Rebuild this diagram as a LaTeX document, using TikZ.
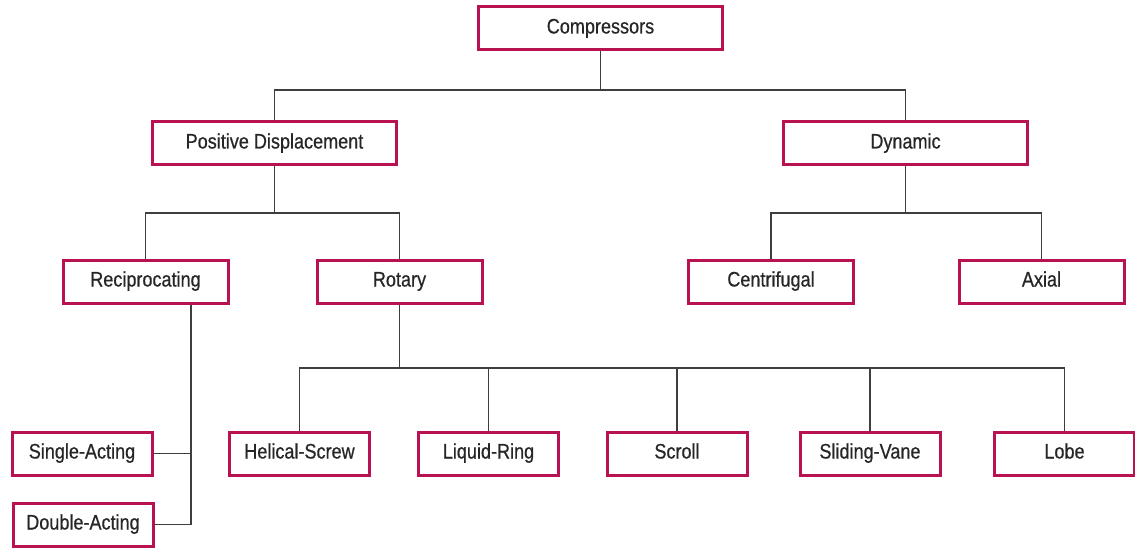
\documentclass[tikz,border=0pt]{standalone}
\usepackage{fontspec}
\setmainfont[FakeStretch=0.86,FakeBold=0.6]{Liberation Sans}
\definecolor{boxred}{RGB}{184,18,82}
\definecolor{linegray}{RGB}{62,62,62}
\tikzset{
  catbox/.style={draw=boxred, line width=3pt, minimum height=43pt, inner sep=0pt,
    text height=14pt, text depth=4pt,
    text=black!85, font=\fontsize{21}{24}\selectfont},
  widebox/.style={catbox, minimum width=244pt},
  midbox/.style={catbox, minimum width=165pt},
  smallbox/.style={catbox, minimum width=140pt},
  link/.style={draw=linegray, line width=1.7pt}
}
\begin{document}
\begin{tikzpicture}[x=1pt,y=-1pt]
  \useasboundingbox (0,0) rectangle (1135,548);

  % Boxes
  \node[widebox] (comp) at (600.5,28.5) {Compressors};
  \node[widebox] (pd) at (274.5,143.5) {Positive Displacement};
  \node[widebox] (dyn) at (905.5,143.5) {Dynamic};

  \node[midbox] (rec) at (145.5,281.5) {Reciprocating};
  \node[midbox] (rot) at (399.5,281.5) {Rotary};
  \node[midbox] (cen) at (771,281.5) {Centrifugal};
  \node[midbox] (axi) at (1041.5,281.5) {Axial};

  \node[smallbox] (sgl) at (82,453.5) {Single-Acting};
  \node[smallbox] (dbl) at (83,524.5) {Double-Acting};
  \node[smallbox] (hel) at (299.5,453.5) {Helical-Screw};
  \node[smallbox] (liq) at (488.5,453.5) {Liquid-Ring};
  \node[smallbox] (scr) at (677,453.5) {Scroll};
  \node[smallbox] (vane) at (870,453.5) {Sliding-Vane};
  \node[smallbox] (lobe) at (1064.5,453.5) {Lobe};

  % Bus points
  \coordinate (bus1) at (600.5,90);
  \coordinate (bus2) at (274.5,213);
  \coordinate (bus3) at (905.5,213);
  \coordinate (bus4) at (399.5,368);
  \coordinate (recdrop) at (191,524.5);

  % Connectors
  \draw[link] (comp.south) -- (bus1);
  \draw[link] (pd.north) |- (bus1) -| (dyn.north);

  \draw[link] (pd.south) -- (bus2);
  \draw[link] (rec.north) |- (bus2) -| (rot.north);

  \draw[link] (dyn.south) -- (bus3);
  \draw[link] (cen.north) |- (bus3) -| (axi.north);

  \draw[link] (rot.south) -- (bus4);
  \draw[link] (hel.north) |- (bus4) -| (lobe.north);
  \foreach \n in {liq,scr,vane}
    \draw[link] (\n.north) -- (\n.north |- bus4);

  \draw[link] (rec.south -| recdrop) -- (recdrop) -- (dbl.east);
  \draw[link] (sgl.east) -- (sgl.east -| recdrop);
\end{tikzpicture}
\end{document}
